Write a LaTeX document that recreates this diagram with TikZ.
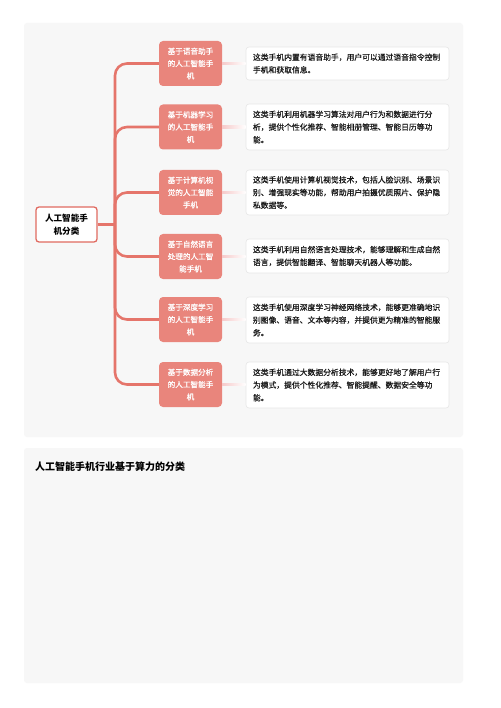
\documentclass[tikz,border=0pt]{standalone}
\usepackage{fontspec}
\setmainfont{Noto Sans CJK SC}
\newfontfamily\medfont[FakeBold=0.6]{Noto Sans CJK SC}
\usetikzlibrary{calc}
\definecolor{panelbg}{HTML}{F7F7F7}
\definecolor{trunkc}{HTML}{E5756B}
\definecolor{childc}{HTML}{E9857C}
\definecolor{rootc}{HTML}{E06A60}
\definecolor{descb}{HTML}{E6E6E6}
\definecolor{fadec}{HTML}{F6CACA}
\tikzset{
  x=1pt, y=-1pt,
  panel/.style={fill=panelbg, draw=none, rounded corners=3pt},
  rootbox/.style={draw=rootc, line width=1.3pt, fill=white, rounded corners=3pt,
    minimum width=61pt, minimum height=35pt, inner sep=0pt, align=center,
    font=\fontsize{8.6}{13}\selectfont\bfseries, text=black},
  childbox/.style={fill=childc, draw=none, rounded corners=4pt,
    minimum width=63pt, minimum height=45pt, inner sep=0pt, align=center,
    font=\medfont\fontsize{7.6}{12.3}\selectfont, text=white},
  descbox/.style={fill=white, draw=descb, line width=0.6pt, rounded corners=3pt,
    minimum width=203pt, inner sep=0pt, inner xsep=7pt, align=left, text width=189pt,
    font=\medfont\fontsize{7.8}{12.7}\selectfont, text=black!90},
  conn/.style={draw=trunkc, line width=2.6pt, rounded corners=12pt},
  titletext/.style={font=\fontsize{10}{12}\selectfont\bfseries, text=black, anchor=west, inner sep=0pt},
}
\begin{document}
\begin{tikzpicture}
\useasboundingbox (0,0) rectangle (500,708);
\fill[white] (0,0) rectangle (500,708);
\fill[panel] (24,23) rectangle (463,437);
\fill[panel] (24,448) rectangle (463,683);

\node[titletext] (title) at (35,467) {人工智能手机行业基于算力的分类};

\node[rootbox] (root) at (66.5,224.5) {人工智能手\\机分类};

\node[childbox] (c1) at (190.5,63.5) {基于语音助手\\的人工智能手\\机};
\node[childbox] (c2) at (190.5,127) {基于机器学习\\的人工智能手\\机};
\node[childbox] (c3) at (190.5,192.5) {基于计算机视\\觉的人工智能\\手机};
\node[childbox] (c4) at (190.5,256.5) {基于自然语言\\处理的人工智\\能手机};
\node[childbox] (c5) at (190.5,319.5) {基于深度学习\\的人工智能手\\机};
\node[childbox] (c6) at (190.5,384.5) {基于数据分析\\的人工智能手\\机};

\node[descbox, minimum height=33pt] (d1) at (347.5,63.5) {这类手机内置有语音助手，用户可以通过语音指令控制\\手机和获取信息。};
\node[descbox, minimum height=46pt] (d2) at (347.5,127) {这类手机利用机器学习算法对用户行为和数据进行分\\析，提供个性化推荐、智能相册管理、智能日历等功\\能。};
\node[descbox, minimum height=45pt] (d3) at (347.5,192.5) {这类手机使用计算机视觉技术，包括人脸识别、场景识\\别、增强现实等功能，帮助用户拍摄优质照片、保护隐\\私数据等。};
\node[descbox, minimum height=34pt] (d4) at (347.5,256) {这类手机利用自然语言处理技术，能够理解和生成自然\\语言，提供智能翻译、智能聊天机器人等功能。};
\node[descbox, minimum height=46pt] (d5) at (347.5,320) {这类手机使用深度学习神经网络技术，能够更准确地识\\别图像、语音、文本等内容，并提供更为精准的智能服\\务。};
\node[descbox, minimum height=46pt] (d6) at (347.5,385) {这类手机通过大数据分析技术，能够更好地了解用户行\\为模式，提供个性化推荐、智能提醒、数据安全等功\\能。};

\coordinate (j) at (115,224.5);
\draw[draw=trunkc, line width=2.6pt] (root.east) -- (j);
\foreach \i in {1,...,6}{
  \draw[conn] (j) |- (c\i.west);
  \shade[left color=fadec, right color=white]
    ($(c\i.east)+(0,-1.3)$) rectangle ($(d\i.west |- c\i.east)+(0,1.3)$);
}
\end{tikzpicture}
\end{document}
